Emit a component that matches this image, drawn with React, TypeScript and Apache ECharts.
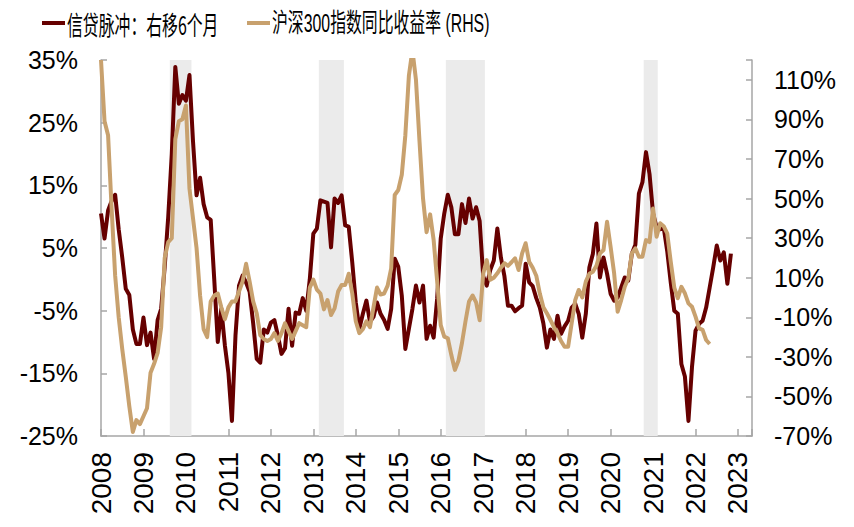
import React, { useEffect, useRef } from "react";
import * as echarts from "echarts";

const START_YEAR = 2008;
const X_MIN = 2008;
const X_MAX = 2023.33;

// 信贷脉冲：右移6个月 (monthly, from Jan 2008), %
const creditPulse: number[] = [
  10.5, 6.5, 11, 12.5, 13.5, 8, 3.5, -1.5, -2.5, -8, -10.3, -10.3,
  -6.1, -10.5, -8.5, -12.7, -6.5, -4.7, 2, 10, 20, 33.9, 28, 29.4,
  28.5, 32.6, 22, 13.4, 16.2, 12, 9.9, 9.5, 0, -10, -4.7, -10.5,
  -14.9, -22.6, -9, -1, 0.6, -0.5, -2, -7, -12.7, -13.3, -8, -8.5,
  -6.9, -6.5, -9, -11.9, -11, -4.7, -10.6, -5.3, -5.5, -3, -5, 0,
  7.3, 8.1, 12.6, 12.4, 12.2, 5.1, 12.9, 12.2, 13.4, 8.6, 8.4, 2.7,
  -3.7, -7.9, -5.5, -3.4, -6.8, -6, -3.7, -5.5, -6.5, -7.9, -4.7, 3.3,
  2.0, -2.6, -11.1, -7.9, -4.7, -1.0, -3.7, -1.0, -9.5, -7.4, -9.3, -3,
  6.5, 10.5, 13.5, 11.5, 7.2, 7.2, 12, 9, 12.9, 9.7, 11.5, 9.3,
  0.5, -1.0, 1.5, 3, 8.1, 3.5, 0.5, -4.2, -4.2, -5.1, -4.6, -4.2,
  2.5, -0.5, -1.1, -3.0, -4.5, -7.0, -10.9, -8, -9.5, -5.8, -8.7, -7.5,
  -6.6, -4.5, -3.9, -5.5, -9.3, -5.5, 1.9, 4.1, 8.9, 0.3, 3.5, 0.9,
  -2.3, -3.4, -2.9, -1.3, 0.3, -0.2, 4.1, 5.5, 13.7, 15.5, 20.3, 16.8,
  10.5, 8.3, 8.0, 8.3, 4.5, -0.5, -5, -5.5, -13.5, -15.5, -22.6, -14,
  -8.2, -7.1, -6.6, -4.5, -1.3, 1.9, 5.4, 3.0, 4.3, -0.7, 4.1,
];

// 沪深300指数同比收益率 (RHS) (monthly, from Jan 2008), %
const csi300Yoy: number[] = [
  120, 89, 82, 45, 11, -10, -26, -40, -55, -68, -62, -64,
  -60, -56, -38, -33.5, -28, -15, 20, 28, 30, 80, 89, 90,
  97, 55, 40, 25, 1, -16, -20, -2, 1, 2, -5, -11,
  -5, -2, -2, 3, 8, 17, 8, -2, -8, -19, -21, -22,
  -21, -18, -22, -18, -13, -17, -21, -17, -13, -14, -15, 5,
  9, 4, 2, -6, -1.3, -8.9, -5.5, 3, 6.3, 6.3, 12, 2,
  -12, -18, -16, -12, -15, -5, 5, 1.5, 2, 6, 14.7, 51.8,
  54.3, 62, 82, 112, 125, 110, 79, 50, 33, 42, 29, 8,
  -14, -19.8, -20.6, -29.1, -36.6, -32, -23, -12, -2, 1, -2.5, -11.5,
  12, 18.9, 9, 10, 12.2, 15, 17.3, 16, 17.8, 19.8, 13.9, 22.3,
  27.4, 18, 15, 11, 2, -5, -8, -11.4, -15, -18, -22, -24.9,
  -24.9, -13, -1.3, 3.8, 0, 8, 12, 13, 16, 22.3, 24, 38.3,
  25.6, 12.2, -7.2, -1.3, 5.4, 9.7, 22.3, 24.8, 20.6, 20.6, 29, 28,
  45, 30.7, 37.5, 36, 32.4, 18, 5, -0.4, 5.4, 2.1, -3, -4.7,
  -9.7, -15.6, -16.4, -21.5, -23.5,
];

// shaded periods (decimal years)
const shadedStart: number[] = [2009.62, 2013.13, 2016.12, 2020.78];
const shadedEnd: number[] = [2010.13, 2013.72, 2017.04, 2021.11];

const LEFT_MIN = -25;
const LEFT_MAX = 35;
const LEFT_STEP = 10;
const RIGHT_MIN = -70;
const RIGHT_MAX = 120;
const RIGHT_STEP = 20;

const NAME_1 = "信贷脉冲：右移6个月";
const NAME_2 = "沪深300指数同比收益率 (RHS)";

const DARK = "#660000";
const TAN = "#C8A16E";
const AXIS = "#A6A6A6";

const toPairs = (arr: number[]) =>
  arr.map((v, i) => [START_YEAR + i / 12, v]);

export default function App() {
  const ref = useRef<HTMLDivElement>(null);

  useEffect(() => {
    document.body.style.margin = "0";
    if (!ref.current) return;
    const chart = echarts.init(ref.current, undefined, { renderer: "svg" });

    const axisLabelFont = {
      fontSize: 25,
      fontFamily: "Liberation Sans, Arial, sans-serif",
      color: "#000",
    };

    chart.setOption({
      animation: false,
      backgroundColor: "#fff",
      grid: { left: 101, right: 102, top: 60, bottom: 91, containLabel: false },
      graphic: [
        {
          type: "line",
          shape: { x1: 42, y1: 23, x2: 65, y2: 23 },
          style: { stroke: DARK, lineWidth: 4 },
        },
        {
          type: "text",
          x: 67,
          y: 24,
          scaleX: 0.61,
          style: {
            text: NAME_1,
            fontSize: 26,
            fontFamily: "Noto Sans CJK SC, sans-serif",
            fill: "#000",
            align: "left",
            verticalAlign: "middle",
          },
        },
        {
          type: "line",
          shape: { x1: 247, y1: 23, x2: 270, y2: 23 },
          style: { stroke: TAN, lineWidth: 4 },
        },
        {
          type: "text",
          x: 272,
          y: 24,
          scaleX: 0.61,
          style: {
            text: NAME_2,
            fontSize: 26,
            fontFamily: "Liberation Sans, Noto Sans CJK SC, sans-serif",
            fill: "#000",
            align: "left",
            verticalAlign: "middle",
          },
        },
      ],
      xAxis: {
        type: "value",
        min: X_MIN,
        max: X_MAX,
        interval: 1,
        splitLine: { show: false },
        axisLine: { onZero: false, lineStyle: { color: AXIS, width: 1.5 } },
        axisTick: { inside: true, length: 7, lineStyle: { color: AXIS, width: 1.5 } },
        axisLabel: {
          ...axisLabelFont,
          fontSize: 28,
          rotate: 90,
          margin: 16,
          formatter: (v: number) => (Number.isInteger(v) ? String(v) : ""),
        },
      },
      yAxis: [
        {
          type: "value",
          position: "left",
          min: LEFT_MIN,
          max: LEFT_MAX,
          interval: LEFT_STEP,
          splitLine: { show: false },
          axisLine: { show: true, onZero: false, lineStyle: { color: AXIS, width: 1.5 } },
          axisTick: { show: true, inside: true, length: 6, lineStyle: { color: AXIS, width: 1.5 } },
          axisLabel: { ...axisLabelFont, margin: 23, formatter: (v: number) => `${v}%` },
        },
        {
          type: "value",
          position: "right",
          min: RIGHT_MIN,
          max: RIGHT_MAX,
          interval: RIGHT_STEP,
          splitLine: { show: false },
          axisLine: { show: true, onZero: false, lineStyle: { color: AXIS, width: 1.5 } },
          axisTick: { show: true, inside: true, length: 6, lineStyle: { color: AXIS, width: 1.5 } },
          axisLabel: {
            ...axisLabelFont,
            margin: 22,
            formatter: (v: number) => (v >= RIGHT_MAX ? "" : `${v}%`),
          },
        },
      ],
      series: [
        {
          name: NAME_1,
          type: "line",
          yAxisIndex: 0,
          data: toPairs(creditPulse),
          showSymbol: false,
          symbol: "none",
          lineStyle: { color: DARK, width: 4, join: "round" },
          itemStyle: { color: DARK },
          z: 3,
          markArea: {
            silent: true,
            itemStyle: { color: "#EBEBEB" },
            label: { show: false },
            data: shadedStart.map((s, i) => [{ xAxis: s }, { xAxis: shadedEnd[i] }]),
          },
        },
        {
          name: NAME_2,
          type: "line",
          yAxisIndex: 1,
          data: toPairs(csi300Yoy),
          showSymbol: false,
          symbol: "none",
          lineStyle: { color: TAN, width: 4, join: "round" },
          itemStyle: { color: TAN },
          z: 4,
        },
      ],
    });

    return () => {
      chart.dispose();
    };
  }, []);

  return <div ref={ref} style={{ width: 854, height: 527 }} />;
}
